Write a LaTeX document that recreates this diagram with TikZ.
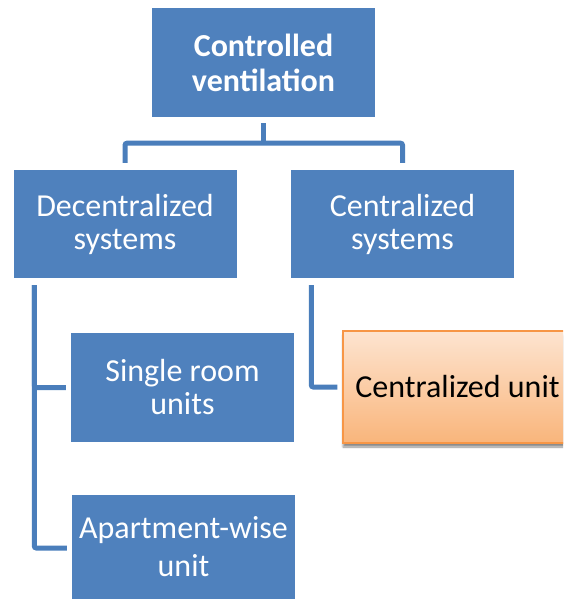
\documentclass[tikz,border=0pt]{standalone}
\usepackage{fontspec}
\setmainfont{Carlito}
\usetikzlibrary{calc,shadows.blur}

\definecolor{boxblue}{HTML}{4F81BD}
\definecolor{linkblue}{HTML}{4A7EBB}
\definecolor{unitedge}{HTML}{F79646}
\definecolor{unittop}{HTML}{FDE4D0}
\definecolor{unitbot}{HTML}{F9B57B}

\tikzset{
  box/.style={rectangle, fill=boxblue, text=white, align=center,
    minimum width=223pt, inner sep=0pt,
    font=\fontsize{32}{33}\selectfont},
  link/.style={draw=linkblue, line width=5pt, rounded corners=2pt}
}

\begin{document}
\begin{tikzpicture}[x=1pt, y=-1pt]
  \useasboundingbox (0,0) rectangle (563,599);
  \clip (0,0) rectangle (563,599);

  % boxes
  \node (top) [box, minimum height=109pt, font=\fontsize{32}{35}\selectfont\bfseries]
    at (263.5,62.5) {Controlled\\ventilation};
  \node (dec) [box, minimum height=108pt] at (125,224) {Decentralized\\systems};
  \node (cen) [box, minimum height=108pt] at (402.5,224) {Centralized\\systems};
  \node (single) [box, minimum height=109pt] at (182.5,387.5) {Single room\\units};
  \node (apt) [box, minimum height=130pt, anchor=north] at (183.5,495) {};
  \node (apttext) [font=\fontsize{32}{38}\selectfont, text=white, align=center,
    inner sep=0pt] at ($(apt.north)+(0,52)$) {Apartment-wise\\unit};
  \node (unit) [rectangle, draw=unitedge, line width=1.5pt,
    top color=unittop, bottom color=unitbot,
    blur shadow={shadow xshift=0pt, shadow yshift=-4pt, shadow blur steps=8, shadow opacity=45},
    minimum width=229pt, minimum height=112pt, inner sep=0pt,
    font=\fontsize{32}{35}\selectfont] at (457.5,387) {Centralized unit};

  % connectors
  \coordinate (hub) at ($(top.south)+(0,26)$);
  \draw[link] ($(top.south)+(0,6)$) -- (hub);
  \draw[link] ($(dec.north)+(0,-7)$) |- (hub) -| ($(cen.north)+(0,-7)$);
  \draw[link] ($(dec.south west)+(21,7)$) |- ($(single.west)+(-5,0)$);
  \draw[link] ($(dec.south west)+(21,7)$) |- ($(apt.north west)+(-5,53)$);
  \draw[link] ($(cen.south west)+(20.5,7)$) |- ($(unit.west)+(-5,0)$);
\end{tikzpicture}
\end{document}
